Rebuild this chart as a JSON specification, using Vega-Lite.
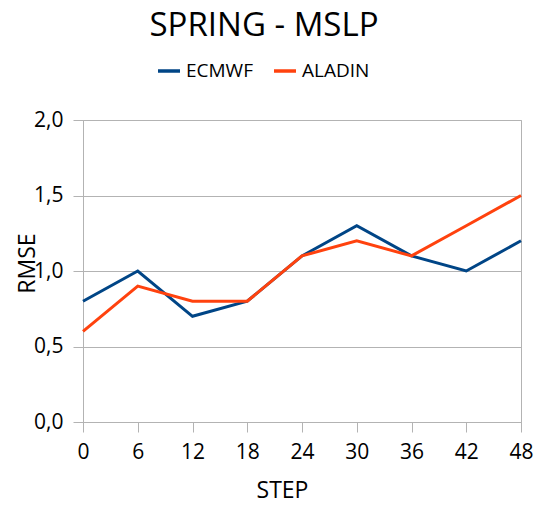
{
  "$schema": "https://vega.github.io/schema/vega-lite/v6.json",
  "width": 438,
  "height": 302,
  "autosize": "none",
  "padding": {"left": 83, "top": 120, "right": 23, "bottom": 84},
  "background": "white",
  "config": {
    "font": "Open Sans",
    "view": {"stroke": "#b3b3b3", "strokeWidth": 1},
    "axis": {
      "gridColor": "#b3b3b3",
      "domainColor": "#b3b3b3",
      "tickColor": "#b3b3b3",
      "tickSize": 10,
      "labelColor": "#000000",
      "titleColor": "#000000",
      "labelFontSize": 21,
      "titleFontSize": 23,
      "titleFontWeight": "normal",
      "labelFont": "Open Sans",
      "titleFont": "Open Sans"
    }
  },
  "title": {
    "text": "SPRING - MSLP",
    "fontSize": 33,
    "fontWeight": "normal",
    "font": "Open Sans",
    "color": "#000000",
    "anchor": "middle",
    "frame": "group",
    "dx": -38,
    "offset": -11,
    "baseline": "alphabetic"
  },
  "data": {
    "values": [
      {"step": 0, "series": "ECMWF", "rmse": 0.8},
      {"step": 6, "series": "ECMWF", "rmse": 1.0},
      {"step": 12, "series": "ECMWF", "rmse": 0.7},
      {"step": 18, "series": "ECMWF", "rmse": 0.8},
      {"step": 24, "series": "ECMWF", "rmse": 1.1},
      {"step": 30, "series": "ECMWF", "rmse": 1.3},
      {"step": 36, "series": "ECMWF", "rmse": 1.1},
      {"step": 42, "series": "ECMWF", "rmse": 1.0},
      {"step": 48, "series": "ECMWF", "rmse": 1.2},
      {"step": 0, "series": "ALADIN", "rmse": 0.6},
      {"step": 6, "series": "ALADIN", "rmse": 0.9},
      {"step": 12, "series": "ALADIN", "rmse": 0.8},
      {"step": 18, "series": "ALADIN", "rmse": 0.8},
      {"step": 24, "series": "ALADIN", "rmse": 1.1},
      {"step": 30, "series": "ALADIN", "rmse": 1.2},
      {"step": 36, "series": "ALADIN", "rmse": 1.1},
      {"step": 42, "series": "ALADIN", "rmse": 1.3},
      {"step": 48, "series": "ALADIN", "rmse": 1.5}
    ]
  },
  "mark": {"type": "line", "strokeWidth": 3},
  "encoding": {
    "x": {
      "field": "step",
      "type": "quantitative",
      "scale": {"domain": [0, 48], "nice": false, "zero": false},
      "axis": {
        "values": [0, 6, 12, 18, 24, 30, 36, 42, 48],
        "title": "STEP",
        "grid": false,
        "labelFlush": false,
        "labelPadding": 9,
        "titlePadding": 17,
        "titleX": 199
      }
    },
    "y": {
      "field": "rmse",
      "type": "quantitative",
      "scale": {"domain": [0, 2], "nice": false},
      "axis": {
        "values": [0, 0.5, 1, 1.5, 2],
        "labelExpr": "replace(format(datum.value, '.1f'), '.', ',')",
        "labelFlush": false,
        "title": "RMSE",
        "labelPadding": 10,
        "titleX": -44,
        "titleY": 143,
        "titleAnchor": "middle"
      }
    },
    "color": {
      "field": "series",
      "type": "nominal",
      "scale": {"domain": ["ECMWF", "ALADIN"], "range": ["#004586", "#ff420e"]},
      "legend": {
        "title": null,
        "orient": "none",
        "direction": "horizontal",
        "legendX": 73,
        "legendY": -62,
        "symbolType": "stroke",
        "symbolSize": 484,
        "symbolStrokeWidth": 3.5,
        "labelFontSize": 19,
        "labelFont": "Open Sans",
        "labelColor": "#000000",
        "labelOffset": 4,
        "columnPadding": 14
      }
    },
    "order": {"field": "series", "sort": "ascending"}
  }
}
